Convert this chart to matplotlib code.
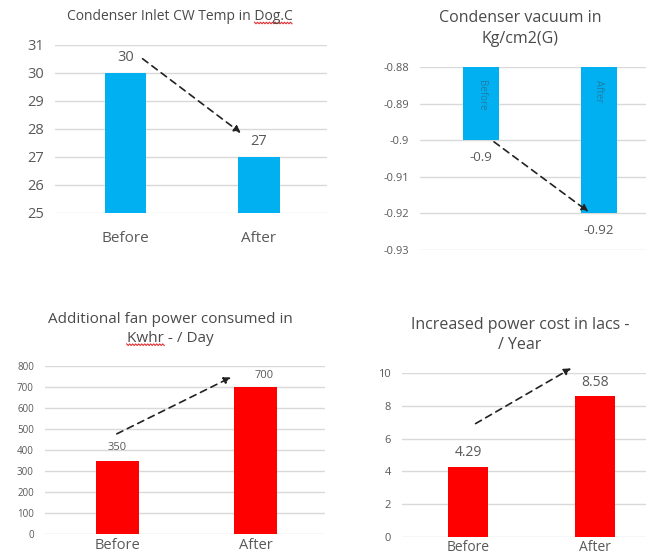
import matplotlib
matplotlib.use("Agg")
import numpy as np
import matplotlib.pyplot as plt
from matplotlib.lines import Line2D

plt.rcParams['font.family'] = ['Open Sans', 'DejaVu Sans']

categories = ["Before", "After"]

cw_temp = [30, 27]
cw_ticks = [25, 26, 27, 28, 29, 30, 31]

vacuum = [-0.90, -0.92]
vacuum_ticks = [-0.93, -0.92, -0.91, -0.90, -0.89, -0.88]
vacuum_tick_labels = ["-0.93", "-0.92", "-0.91", "-0.9", "-0.89", "-0.88"]

fan_power = [350, 700]
fan_ticks = [0, 100, 200, 300, 400, 500, 600, 700, 800]

power_cost = [4.29, 8.58]
cost_ticks = [0, 2, 4, 6, 8, 10]

BLUE = "#00B0F0"
RED = "#FF0000"
GREY = "#595959"
TITLE = "#4a4a4a"
GRID = "#D9D9D9"

W, H = 646, 559
fig = plt.figure(figsize=(W / 100, H / 100), dpi=100)


def make_axes(left, top, right, bottom):
    return fig.add_axes([left / W, 1 - bottom / H, (right - left) / W, (bottom - top) / H])


def style(ax, ticks, tick_labels, tick_size, cat_size, xlim, xpad):
    ax.set_xlim(*xlim)
    ax.set_yticks(ticks)
    ax.set_yticklabels(tick_labels, fontsize=tick_size, color=GREY)
    ax.set_ylim(ticks[0], ticks[-1])
    ax.set_xticks(range(len(categories)))
    ax.set_xticklabels(categories, fontsize=cat_size, color=GREY)
    for s in ax.spines.values():
        s.set_visible(False)
    ax.tick_params(axis='y', length=0, pad=8)
    ax.tick_params(axis='x', length=0, pad=xpad)
    ax.yaxis.grid(True, color=GRID, linewidth=1)
    ax.set_axisbelow(True)


def trend_arrow(ax, start, end):
    ax.annotate("", xy=end, xytext=start, annotation_clip=False,
                arrowprops=dict(arrowstyle="-|>", linestyle=(0, (4, 3)),
                                color="#222222", lw=1.2, mutation_scale=10))


# Condenser inlet CW temperature
ax1 = make_axes(55, 45, 327, 213)
ax1.bar(range(2), cw_temp, width=0.31, color=BLUE)
style(ax1, cw_ticks, [str(t) for t in cw_ticks], 10.5, 11, (-0.53, 1.51), 13)
ax1.set_ylim(25, 31)
ax1.text(0, 30.55, "30", ha="center", va="center", fontsize=10.5, color=GREY)
ax1.text(1, 27.55, "27", ha="center", va="center", fontsize=10.5, color=GREY)
trend_arrow(ax1, (0.11, 30.57), (0.88, 27.8))
title1 = fig.text(180 / W, 1 - 17 / H, "Condenser Inlet CW Temp in Dog.C",
                  ha="center", va="center", fontsize=10, color=TITLE)

# Condenser vacuum
ax2 = make_axes(420, 67, 646, 250)
ax2.bar(range(2), [v - vacuum_ticks[-1] for v in vacuum], width=0.31,
        bottom=vacuum_ticks[-1], color=BLUE)
style(ax2, vacuum_ticks, vacuum_tick_labels, 8, 10, (-0.52, 1.4), 8)
ax2.set_xticks([])
for i, v in enumerate(vacuum):
    ax2.text(i, v - 0.0047, f"{v:g}", ha="center", va="center", fontsize=9.5, color=GREY)
    ax2.text(i, -0.8835, categories[i], rotation=270, ha="center", va="top",
             fontsize=7, color="#2a6f96", alpha=0.8)
trend_arrow(ax2, (0.09, vacuum[0]), (0.93, vacuum[1]))
fig.text(520 / W, 1 - 28.5 / H, "Condenser vacuum in\nKg/cm2(G)", ha="center",
         va="center", fontsize=11.5, color=TITLE, linespacing=1.4)

# Additional fan power
ax3 = make_axes(45, 366, 325, 534)
ax3.bar(range(2), fan_power, width=0.31, color=RED)
style(ax3, fan_ticks, [str(t) for t in fan_ticks], 7, 10.5, (-0.52, 1.5), 3)
ax3.text(0, 414, "350", ha="center", va="center", fontsize=8, color=GREY)
ax3.text(1.06, 757, "700", ha="center", va="center", fontsize=8, color=GREY)
trend_arrow(ax3, (-0.02, 471), (0.84, 752))
title3 = fig.text(170 / W, 1 - 329 / H, "Additional fan power consumed in\nKwhr - / Day",
                  ha="center", va="center", fontsize=11, color=TITLE, linespacing=1.4)

# Increased power cost
ax4 = make_axes(402, 373, 646, 537)
ax4.bar(range(2), power_cost, width=0.31, color=RED)
style(ax4, cost_ticks, [str(t) for t in cost_ticks], 8, 10, (-0.52, 1.4), 2)
ax4.text(0, 5.15, f"{power_cost[0]:g}", ha="center", va="center", fontsize=10, color=GREY)
ax4.text(1, 9.4, f"{power_cost[1]:g}", ha="center", va="center", fontsize=10, color=GREY)
trend_arrow(ax4, (0.04, 6.83), (0.83, 10.37))
fig.text(520 / W, 1 - 335 / H, "Increased power cost in lacs -\n/ Year",
         ha="center", va="center", fontsize=11.5, color=TITLE, linespacing=1.4)

# Red spell-check squiggles under the flagged words
fig.canvas.draw()
renderer = fig.canvas.get_renderer()


def text_width(s, size):
    tmp = fig.text(0, 0, s, fontsize=size)
    w = tmp.get_window_extent(renderer).width
    tmp.remove()
    return w


def squiggle(x0, x1, y):
    xs = np.arange(x0, x1 + 0.1, 1.5)
    ys = y + np.where(np.arange(len(xs)) % 2 == 0, 0.8, -0.8)
    fig.add_artist(Line2D(xs / W, ys / H, transform=fig.transFigure,
                          color="#E03030", lw=0.8))


bb = title1.get_window_extent(renderer)
x_start = bb.x0 + text_width("Condenser Inlet CW Temp in ", 10)
squiggle(x_start, bb.x1, bb.y0 + 1.5)

bb = title3.get_window_extent(renderer)
line2 = text_width("Kwhr - / Day", 11)
x_start = (bb.x0 + bb.x1) / 2 - line2 / 2
squiggle(x_start, x_start + text_width("Kwhr", 11) + 2, bb.y0 + 1.5)

fig.savefig("out.png", dpi=100, facecolor="white")
